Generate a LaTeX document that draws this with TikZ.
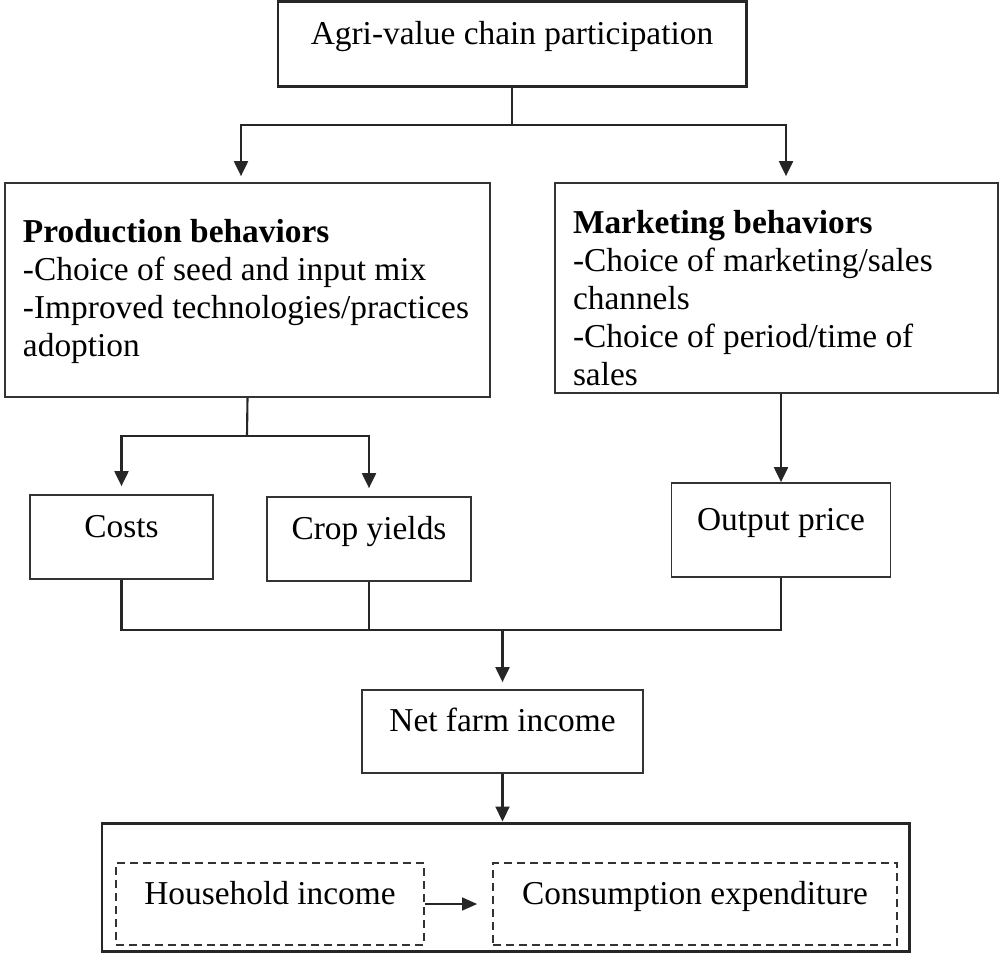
\documentclass[tikz,border=0pt]{standalone}
\usepackage{fontspec}
\setmainfont{Liberation Serif}
\usetikzlibrary{arrows.meta,positioning,calc}

\begin{document}
\begin{tikzpicture}[
  font=\fontsize{19}{21.6}\selectfont,
  outer/.style={rectangle, draw=black!85, line width=1.7pt, inner sep=0pt, text height=0.3cm, text depth=0.3cm},
  box/.style={rectangle, draw=black!80, line width=1pt, inner sep=0pt, text height=0.3cm, text depth=0.3cm},
  listbox/.style={rectangle, draw=black!80, line width=1pt, align=flush left, inner xsep=0.36cm, inner ysep=0pt},
  dbox/.style={rectangle, draw=black!80, line width=1pt, dash pattern=on 0.16cm off 0.1cm, inner sep=0pt, text height=0.3cm, text depth=0.3cm},
  feeds/.style={->, >={Triangle[length=0.3cm, width=0.28cm]}, line width=1.2pt, draw=black!85},
  link/.style={line width=1.2pt, draw=black!85},
  leads/.style={->, >={Triangle[length=0.3cm, width=0.26cm]}, line width=0.8pt, draw=black!85}
]
  \useasboundingbox (0,0) rectangle (20,-19.08);
  % Participation (top)
  \node[outer, minimum width=9.36cm, minimum height=1.70cm] (chain) at (10.24,-0.88) {Agri-value chain participation};
  % Behaviours (middle)
  \node[listbox, text width=8.98cm, minimum height=4.28cm] (prod) at (4.95,-5.80)
    {\rule{0pt}{0.53cm}\textbf{Production behaviors}\\-Choice of seed and input mix\\-Improved technologies/practices\\adoption};
  \node[listbox, text width=8.14cm, minimum height=4.20cm] (mark) at (15.53,-5.76)
    {\rule{0pt}{0.85cm}\textbf{Marketing behaviors}\\-Choice of marketing/sales\\channels\\-Choice of period/time of\\sales};
  % Outcomes
  \node[box, minimum width=3.66cm, minimum height=1.68cm] (costs)  at (2.43,-10.74) {Costs};
  \node[box, minimum width=4.08cm, minimum height=1.68cm] (yields) at (7.38,-10.78) {Crop yields};
  \node[box, minimum width=4.38cm, minimum height=1.88cm] (price)  at (15.62,-10.60) {Output price};
  \node[box, minimum width=5.62cm, minimum height=1.66cm] (net)    at (10.05,-14.63) {Net farm income};
  % Welfare (bottom)
  \node[outer, minimum width=16.14cm, minimum height=2.56cm] (welfare) at (10.11,-17.74) {};
  \node[dbox, minimum width=6.16cm, minimum height=1.64cm] (hh)   at (5.40,-18.08) {Household income};
  \node[dbox, minimum width=8.08cm, minimum height=1.64cm] (cons) at (13.90,-18.08) {Consumption expenditure};
  % Junction points
  \coordinate (split) at (10.24,-2.50);
  \coordinate (fork)  at (4.94,-8.72);
  \coordinate (merge) at (10.05,-12.60);
  % Arrows
  \draw[link] (chain.south) -- (split);
  \draw[feeds, shorten >=0.12cm] (split) -| ([xshift=-0.13cm]prod.north);
  \draw[feeds, shorten >=0.12cm] (split) -| ([xshift=0.19cm]mark.north);
  \draw[link] (prod.south) -- (fork);
  \draw[feeds, shorten >=0.16cm] (fork) -| (costs.north);
  \draw[feeds, shorten >=0.16cm] (fork) -| (yields.north);
  \draw[feeds] (price.north |- mark.south) -- (price.north);
  \draw[link] (costs.south) |- (merge) -| (price.south);
  \draw[link] (yields.south) -- (yields.south |- merge);
  \draw[feeds, shorten >=0.14cm] (merge) -- (net.north);
  \draw[feeds] (net.south) -- (net.south |- welfare.north);
  \draw[leads, shorten >=0.3cm] (hh.east) -- (cons.west);
\end{tikzpicture}
\end{document}
